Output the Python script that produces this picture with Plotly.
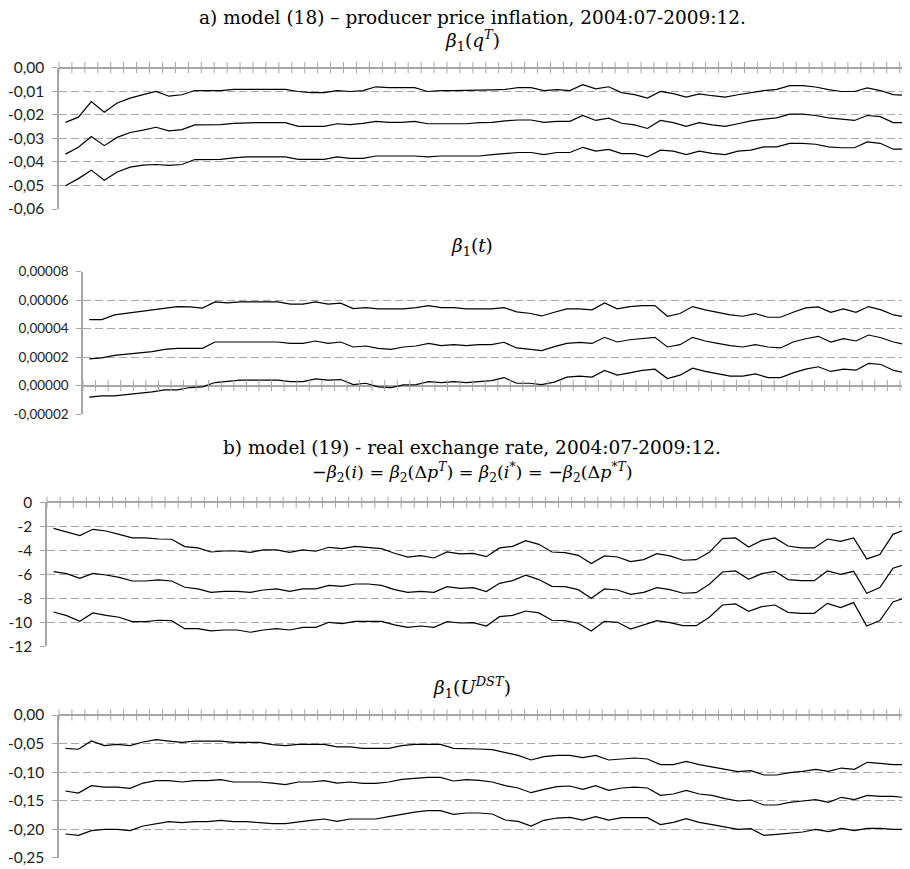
import plotly.graph_objects as go

# ---- data -------------------------------------------------------------
months = [f"{y}:{m:02d}" for y in range(2004, 2010) for m in range(1, 13)
          if not (y == 2004 and m < 7)]

# a) beta1(q^T)
qT_upper = [-0.0232,-0.0210,-0.0144,-0.0189,-0.0150,-0.0129,-0.0114,-0.0101,-0.0121,-0.0115,
            -0.0097,-0.0097,-0.0097,-0.0092,-0.0092,-0.0092,-0.0092,-0.0092,-0.0101,-0.0106,
            -0.0106,-0.0097,-0.0101,-0.0097,-0.0081,-0.0085,-0.0085,-0.0085,-0.0101,-0.0097,
            -0.0097,-0.0097,-0.0097,-0.0094,-0.0092,-0.0085,-0.0085,-0.0097,-0.0093,-0.0097,
            -0.0072,-0.0090,-0.0081,-0.0106,-0.0114,-0.0129,-0.0101,-0.0110,-0.0125,-0.0111,
            -0.0119,-0.0125,-0.0115,-0.0106,-0.0097,-0.0092,-0.0076,-0.0076,-0.0082,-0.0093,
            -0.0101,-0.0101,-0.0086,-0.0097,-0.0114,-0.0118]
qT_mid = [-0.0367,-0.0338,-0.0292,-0.0331,-0.0296,-0.0275,-0.0265,-0.0253,-0.0268,-0.0263,
          -0.0243,-0.0243,-0.0242,-0.0236,-0.0233,-0.0233,-0.0233,-0.0233,-0.0249,-0.0249,
          -0.0249,-0.0238,-0.0242,-0.0236,-0.0228,-0.0232,-0.0232,-0.0228,-0.0238,-0.0238,
          -0.0238,-0.0238,-0.0233,-0.0232,-0.0226,-0.0222,-0.0222,-0.0232,-0.0228,-0.0228,
          -0.0203,-0.0224,-0.0214,-0.0236,-0.0243,-0.0258,-0.0224,-0.0233,-0.0249,-0.0233,
          -0.0243,-0.0249,-0.0238,-0.0226,-0.0218,-0.0213,-0.0197,-0.0197,-0.0203,-0.0213,
          -0.0218,-0.0224,-0.0203,-0.0208,-0.0233,-0.0233]
qT_lower = [-0.0501,-0.0471,-0.0435,-0.0478,-0.0443,-0.0422,-0.0414,-0.0411,-0.0415,-0.0411,
            -0.0390,-0.0390,-0.0389,-0.0383,-0.0379,-0.0379,-0.0379,-0.0379,-0.0389,-0.0389,
            -0.0389,-0.0379,-0.0385,-0.0385,-0.0375,-0.0375,-0.0375,-0.0375,-0.0379,-0.0375,
            -0.0375,-0.0375,-0.0375,-0.0369,-0.0365,-0.0360,-0.0360,-0.0369,-0.0360,-0.0360,
            -0.0338,-0.0354,-0.0347,-0.0365,-0.0365,-0.0379,-0.0350,-0.0354,-0.0369,-0.0354,
            -0.0364,-0.0369,-0.0354,-0.0350,-0.0336,-0.0336,-0.0321,-0.0321,-0.0325,-0.0336,
            -0.0340,-0.0340,-0.0315,-0.0321,-0.0346,-0.0346]

# a) beta1(t), in units of 1e-5
t_unit = 1e-5
t_upper = [4.63,4.63,4.96,5.08,5.18,5.27,5.44,5.55,5.53,5.44,
           5.88,5.81,5.88,5.88,5.88,5.88,5.72,5.72,5.88,5.72,
           5.79,5.41,5.48,5.39,5.39,5.39,5.48,5.62,5.48,5.48,
           5.39,5.39,5.39,5.48,5.18,5.08,4.89,5.15,5.39,5.39,
           5.32,5.81,5.39,5.55,5.62,5.62,4.87,5.06,5.55,5.32,
           5.15,4.96,4.87,5.06,4.80,4.80,5.15,5.46,5.53,5.15,
           5.39,5.15,5.55,5.32,4.96,4.80]
t_mid = [1.88,1.95,2.12,2.21,2.28,2.38,2.54,2.61,2.61,2.61,
         3.06,3.06,3.06,3.06,3.06,3.06,2.96,2.96,3.13,2.96,
         3.06,2.71,2.78,2.61,2.54,2.71,2.78,2.96,2.80,2.87,
         2.80,2.87,2.87,3.04,2.64,2.54,2.45,2.73,2.96,3.04,
         2.96,3.39,3.06,3.22,3.29,3.39,2.71,2.87,3.39,3.13,
         2.96,2.80,2.71,2.87,2.71,2.64,3.06,3.29,3.46,3.06,
         3.29,3.13,3.55,3.36,3.06,2.87]
t_lower = [-0.82,-0.73,-0.73,-0.64,-0.54,-0.45,-0.31,-0.31,-0.14,-0.09,
           0.21,0.28,0.38,0.38,0.38,0.38,0.28,0.28,0.47,0.38,
           0.42,0.07,0.16,-0.09,-0.14,0.05,0.07,0.28,0.21,0.28,
           0.21,0.28,0.35,0.56,0.16,0.16,0.07,0.24,0.59,0.66,
           0.59,1.06,0.73,0.89,1.06,1.15,0.49,0.73,1.22,0.99,
           0.82,0.66,0.66,0.82,0.56,0.56,0.89,1.15,1.32,0.99,
           1.15,1.08,1.55,1.48,1.06,0.89]

# b) -beta2(i) = ...
i_upper = [-2.17,-2.47,-2.78,-2.25,-2.39,-2.67,-2.97,-2.97,-3.06,-3.08,
           -3.69,-3.80,-4.14,-4.06,-4.06,-4.17,-3.97,-3.97,-4.17,-3.97,
           -4.08,-3.75,-3.86,-3.67,-3.75,-3.86,-4.25,-4.56,-4.44,-4.64,
           -4.14,-4.30,-4.25,-4.53,-3.80,-3.67,-3.19,-3.50,-4.14,-4.19,
           -4.42,-5.11,-4.47,-4.56,-4.94,-4.78,-4.28,-4.47,-4.83,-4.78,
           -4.17,-3.03,-2.97,-3.72,-3.17,-2.97,-3.64,-3.80,-3.80,-3.06,
           -3.25,-2.97,-4.72,-4.36,-2.67,-2.25]
i_mid = [-5.78,-5.94,-6.33,-5.92,-6.06,-6.25,-6.56,-6.56,-6.47,-6.56,
         -7.08,-7.22,-7.50,-7.42,-7.42,-7.50,-7.31,-7.22,-7.42,-7.22,
         -7.22,-6.92,-7.00,-6.81,-6.81,-6.92,-7.28,-7.50,-7.42,-7.50,
         -7.03,-7.17,-7.11,-7.44,-6.75,-6.53,-6.08,-6.44,-7.00,-7.03,
         -7.28,-8.00,-7.22,-7.31,-7.67,-7.50,-7.11,-7.28,-7.58,-7.53,
         -6.83,-5.81,-5.72,-6.42,-5.94,-5.75,-6.44,-6.53,-6.53,-5.72,
         -6.00,-5.75,-7.58,-7.11,-5.50,-5.14]
i_lower = [-9.14,-9.44,-9.92,-9.22,-9.42,-9.58,-9.94,-9.94,-9.83,-9.86,
           -10.53,-10.53,-10.72,-10.64,-10.64,-10.83,-10.64,-10.53,-10.64,-10.42,
           -10.42,-10.00,-10.11,-9.92,-9.92,-9.92,-10.22,-10.42,-10.31,-10.42,
           -9.94,-10.06,-10.03,-10.31,-9.53,-9.42,-9.06,-9.22,-9.83,-9.86,
           -10.08,-10.72,-9.92,-10.00,-10.56,-10.22,-9.86,-10.03,-10.28,-10.28,
           -9.58,-8.56,-8.47,-9.08,-8.69,-8.56,-9.17,-9.25,-9.25,-8.42,
           -8.78,-8.36,-10.31,-9.86,-8.31,-7.92]

# b) beta1(U^DST)
u_upper = [-0.0584,-0.0600,-0.0456,-0.0537,-0.0514,-0.0537,-0.0473,-0.0432,-0.0456,-0.0479,
           -0.0456,-0.0456,-0.0456,-0.0479,-0.0479,-0.0479,-0.0520,-0.0537,-0.0514,-0.0514,
           -0.0514,-0.0560,-0.0560,-0.0584,-0.0584,-0.0584,-0.0537,-0.0514,-0.0514,-0.0514,
           -0.0584,-0.0584,-0.0596,-0.0607,-0.0660,-0.0707,-0.0788,-0.0730,-0.0707,-0.0707,
           -0.0748,-0.0707,-0.0788,-0.0771,-0.0753,-0.0771,-0.0870,-0.0870,-0.0812,-0.0870,
           -0.0911,-0.0952,-0.0993,-0.0975,-0.1051,-0.1051,-0.1010,-0.0987,-0.0952,-0.0987,
           -0.0929,-0.0952,-0.0829,-0.0847,-0.0870,-0.0870]
u_mid = [-0.1332,-0.1367,-0.1238,-0.1262,-0.1262,-0.1285,-0.1192,-0.1151,-0.1151,-0.1174,
         -0.1151,-0.1151,-0.1133,-0.1174,-0.1174,-0.1174,-0.1192,-0.1220,-0.1174,-0.1174,
         -0.1151,-0.1192,-0.1174,-0.1197,-0.1197,-0.1174,-0.1127,-0.1110,-0.1092,-0.1092,
         -0.1156,-0.1133,-0.1145,-0.1174,-0.1238,-0.1279,-0.1361,-0.1302,-0.1256,-0.1244,
         -0.1302,-0.1238,-0.1320,-0.1279,-0.1262,-0.1279,-0.1407,-0.1384,-0.1320,-0.1384,
         -0.1407,-0.1466,-0.1507,-0.1489,-0.1577,-0.1577,-0.1530,-0.1507,-0.1483,-0.1530,
         -0.1442,-0.1483,-0.1407,-0.1425,-0.1425,-0.1448]
u_lower = [-0.2085,-0.2108,-0.2026,-0.2003,-0.2003,-0.2026,-0.1945,-0.1904,-0.1869,-0.1886,
           -0.1869,-0.1869,-0.1845,-0.1869,-0.1869,-0.1886,-0.1904,-0.1904,-0.1869,-0.1845,
           -0.1822,-0.1863,-0.1822,-0.1822,-0.1822,-0.1781,-0.1740,-0.1700,-0.1676,-0.1676,
           -0.1740,-0.1717,-0.1717,-0.1734,-0.1840,-0.1863,-0.1945,-0.1845,-0.1805,-0.1793,
           -0.1840,-0.1781,-0.1840,-0.1799,-0.1799,-0.1799,-0.1921,-0.1880,-0.1816,-0.1880,
           -0.1921,-0.1962,-0.2003,-0.1991,-0.2108,-0.2091,-0.2067,-0.2050,-0.2003,-0.2044,
           -0.1986,-0.2026,-0.1986,-0.1986,-0.2003,-0.2003]

# tick labels
p1_tickvals = [0.0, -0.01, -0.02, -0.03, -0.04, -0.05, -0.06]
p1_ticktext = ["0,00", "-0,01", "-0,02", "-0,03", "-0,04", "-0,05", "-0,06"]
p2_tickvals = [0.00008, 0.00006, 0.00004, 0.00002, 0.0, -0.00002]
p2_ticktext = ["0,00008", "0,00006", "0,00004", "0,00002", "0,00000", "-0,00002"]
p3_tickvals = [0, -2, -4, -6, -8, -10, -12]
p3_ticktext = ["0", "-2", "-4", "-6", "-8", "-10", "-12"]
p4_tickvals = [0.0, -0.05, -0.10, -0.15, -0.20, -0.25]
p4_ticktext = ["0,00", "-0,05", "-0,10", "-0,15", "-0,20", "-0,25"]

# ---- figure -----------------------------------------------------------
OFF = 8                      # page body margin of the html page
W, H = 910 - OFF, 869 - OFF  # figure size so that it fits in the window
x = list(range(len(months)))
boundaries = [k - 0.5 for k in range(len(months) + 1)]

panels = [
    # (upper, mid, lower, scale, yrange, tickvals, ticktext, left, top, bottom, font)
    (qT_upper, qT_mid, qT_lower, 1.0, [-0.06, 0.0], p1_tickvals, p1_ticktext, 59, 67.7, 209.0, 15.5),
    (t_upper, t_mid, t_lower, t_unit, [-0.00002, 0.00008], p2_tickvals, p2_ticktext, 83, 271.7, 414.0, 13.5),
    (i_upper, i_mid, i_lower, 1.0, [-12, 0], p3_tickvals, p3_ticktext, 47, 502.3, 646.3, 15.5),
    (u_upper, u_mid, u_lower, 1.0, [-0.25, 0.0], p4_tickvals, p4_ticktext, 59, 715.0, 857.7, 15.5),
]

fig = go.Figure()
GRID = "#a6a6a6"
layout_axes = {}
for n, (up, mid, lo, sc, yr, tv, tt, left, top, bot, fs) in enumerate(panels, start=1):
    xa = "x" if n == 1 else f"x{n}"
    ya = "y" if n == 1 else f"y{n}"
    for series in (up, mid, lo):
        fig.add_trace(go.Scatter(
            x=x, y=[v * sc for v in series], xaxis=xa, yaxis=ya, mode="lines",
            line=dict(color="black", width=1.2), customdata=months,
            hovertemplate="%{customdata}: %{y}<extra></extra>", showlegend=False))
    # cross-shaped category tick marks on the zero axis
    fig.add_trace(go.Scatter(
        x=boundaries, y=[0] * len(boundaries), xaxis=xa, yaxis=ya, mode="markers",
        marker=dict(symbol="line-ns", size=8, line=dict(color=GRID, width=1)),
        hoverinfo="skip", showlegend=False, cliponaxis=False))
    xk = "xaxis" if n == 1 else f"xaxis{n}"
    yk = "yaxis" if n == 1 else f"yaxis{n}"
    layout_axes[xk] = dict(domain=[(left - OFF) / W, 1.0], anchor=ya, range=[-0.5, 65.3],
                           showgrid=False, zeroline=False, showticklabels=False,
                           showline=False, ticks="", fixedrange=True)
    layout_axes[yk] = dict(domain=[1 - (bot - OFF) / H, 1 - (top - OFF) / H], anchor=xa,
                           range=yr, tickvals=tv, ticktext=tt, showgrid=True,
                           gridcolor=GRID, gridwidth=1, griddash="8px,4px",
                           zeroline=True, zerolinecolor=GRID, zerolinewidth=1.8,
                           showline=True, linecolor=GRID, linewidth=1.5,
                           ticks="outside", ticklen=5, tickcolor=GRID, tickwidth=1,
                           ticklabelstandoff=5,
                           tickfont=dict(family="Lato", size=fs, color="#222"),
                           automargin=False, fixedrange=True)

fig.update_layout(**layout_axes)

SERIF = "DejaVu Serif"
titles = [
    ("a) model (18) – producer price inflation, 2004:07-2009:12.", 17, 18.5),
    ("<i>β</i><sub>1</sub>(<i>q</i><sup><i>T</i></sup>)", 40, 18.5),
    ("<i>β</i><sub>1</sub>(<i>t</i>)", 247, 18.5),
    ("b) model (19) - real exchange rate, 2004:07-2009:12.", 447, 18.5),
    ("−<i>β</i><sub>2</sub>(<i>i</i>) = <i>β</i><sub>2</sub>(Δ<i>p</i><sup><i>T</i></sup>) = "
     "<i>β</i><sub>2</sub>(<i>i</i><sup>*</sup>) = −<i>β</i><sub>2</sub>(Δ<i>p</i><sup>*<i>T</i></sup>)", 472, 17.5),
    ("<i>β</i><sub>1</sub>(<i>U</i><sup><i>DST</i></sup>)", 687, 18.5),
]
for text, ypx, fsz in titles:
    fig.add_annotation(text=text, xref="paper", yref="paper", x=(472 - OFF) / W,
                       y=1 - (ypx - OFF) / H, xanchor="center", yanchor="middle",
                       showarrow=False, font=dict(family=SERIF, size=fsz, color="black"))

fig.update_layout(width=W, height=H, margin=dict(l=0, r=0, t=0, b=0),
                  paper_bgcolor="white", plot_bgcolor="white")
fig.write_html("out.html")
